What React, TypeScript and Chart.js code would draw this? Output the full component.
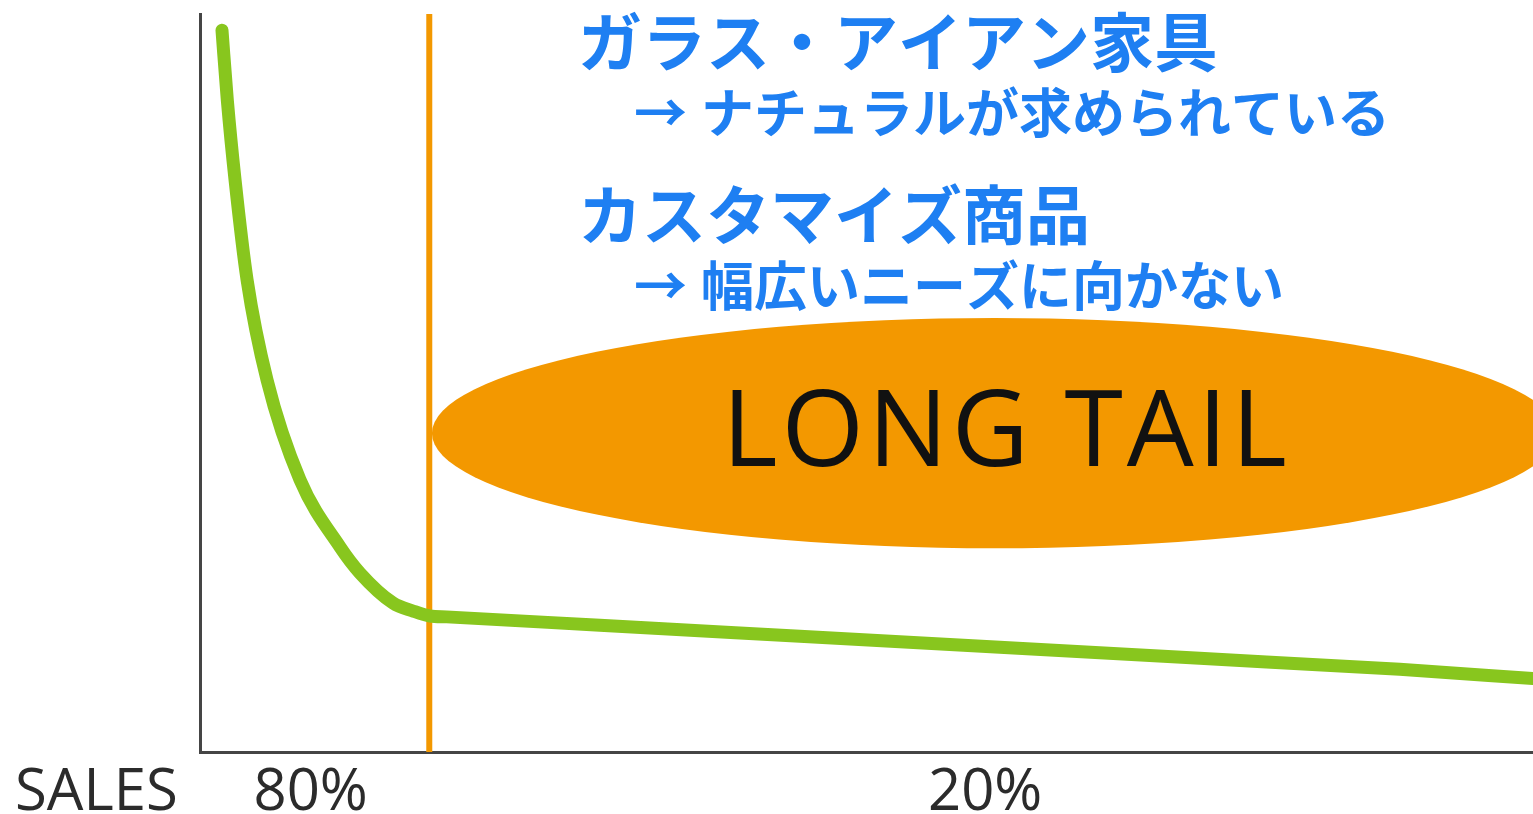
import React, { useEffect, useRef } from "react";
import { Chart, registerables } from "chart.js";

Chart.register(...registerables);

// Product rank (% of catalogue, left→right) and relative sales
const rankX = [1.65, 2.05, 2.63, 3.53, 5.03, 7.5, 10.5, 12.0, 14.48, 15.98, 17.25, 18.5, 30, 45, 60, 75, 90, 100];
const salesY = [97.8, 88.3, 77.5, 64.0, 50.4, 36.9, 27.8, 24.25, 20.19, 19.1, 18.43, 18.31, 17.16, 15.67, 14.18, 12.69, 11.2, 9.95];

// Head / tail boundary on the rank axis
const boundaryX = 17.2;
const segmentLabels = ["80%", "20%"];
const axisLabel = "SALES";
const tailLabel = "LONG TAIL";
// Long tail ellipse (data units): centre x, centre y, radius x, radius y
const tailEllipse = [59.6, 43.2, 42.2, 15.6];

const noteTitles = ["ガラス・アイアン家具", "カスタマイズ商品"];
const noteReasons = ["ナチュラルが求められている", "幅広いニーズに向かない"];

const BLUE = "#1E7FF2";
const ORANGE = "#F39800";
const GREEN = "#88C61E";

const decorPlugin = {
  id: "decor",
  beforeDatasetsDraw(chart: any) {
    const { ctx, scales } = chart;
    const xs = scales.x;
    const ys = scales.y;
    const [cx, cy, rx, ry] = tailEllipse;
    const pcx = xs.getPixelForValue(cx);
    const pcy = ys.getPixelForValue(cy);
    const prx = xs.getPixelForValue(cx + rx) - pcx;
    const pry = pcy - ys.getPixelForValue(cy + ry);
    ctx.save();
    ctx.fillStyle = ORANGE;
    ctx.beginPath();
    ctx.ellipse(pcx, pcy, prx, pry, 0, 0, Math.PI * 2);
    ctx.fill();
    ctx.fillStyle = "#111111";
    ctx.font = '400 106px "Open Sans"';
    (ctx as any).letterSpacing = "4px";
    ctx.textAlign = "center";
    ctx.textBaseline = "alphabetic";
    ctx.fillText(tailLabel, pcx + 12, 466);
    ctx.restore();
  },
  afterDatasetsDraw(chart: any) {
    const { ctx, scales } = chart;
    const xs = scales.x;
    ctx.save();
    // bottom labels
    ctx.fillStyle = "#2b2b2b";
    ctx.font = '400 58px "Open Sans"';
    ctx.textBaseline = "alphabetic";
    ctx.textAlign = "left";
    ctx.fillText(axisLabel, 15, 810);
    ctx.textAlign = "center";
    const m1 = (xs.getPixelForValue(0) + xs.getPixelForValue(boundaryX)) / 2;
    const m2 = (xs.getPixelForValue(boundaryX) + xs.getPixelForValue(100)) / 2;
    ctx.fillText(segmentLabels[0], m1 - 4, 810);
    ctx.fillText(segmentLabels[1], m2 + 4, 810);

    // blue notes
    ctx.fillStyle = BLUE;
    ctx.textAlign = "left";
    ctx.textBaseline = "middle";
    const titleY = [42, 215];
    const reasonY = [113, 286];
    for (let i = 0; i < noteTitles.length; i++) {
      ctx.font = '700 64px "Noto Sans CJK JP"';
      ctx.fillText(noteTitles[i], 578, titleY[i]);
      ctx.font = '700 53px "Noto Sans CJK JP"';
      ctx.fillText("→", 634, reasonY[i]);
      ctx.fillText(noteReasons[i], 701, reasonY[i]);
    }
    ctx.restore();
  },
};

export default function App() {
  const ref = useRef<HTMLCanvasElement>(null);
  useEffect(() => {
    if (!ref.current) return;
    const chart = new Chart(ref.current, {
      type: "line",
      data: {
        datasets: [
          {
            data: rankX.map((x, i) => ({ x, y: salesY[i] })),
            borderColor: GREEN,
            borderWidth: 13,
            borderCapStyle: "round",
            borderJoinStyle: "round",
            cubicInterpolationMode: "monotone",
            pointRadius: 0,
            fill: false,
          },
          {
            data: [
              { x: boundaryX, y: 0 },
              { x: boundaryX, y: 100 },
            ],
            borderColor: ORANGE,
            borderWidth: 6,
            pointRadius: 0,
            fill: false,
          },
        ],
      },
      options: {
        responsive: false,
        animation: false,
        events: [],
        layout: { padding: { left: 192, right: 0, top: 14, bottom: 54 } },
        plugins: { legend: { display: false }, tooltip: { enabled: false } },
        scales: {
          x: {
            type: "linear",
            min: 0,
            max: 100,
            grid: { display: false },
            ticks: { display: false },
            border: { display: true, color: "#454545", width: 3 },
          },
          y: {
            type: "linear",
            min: 0,
            max: 100,
            grid: { display: false },
            ticks: { display: false },
            border: { display: true, color: "#454545", width: 3 },
          },
        },
      },
      plugins: [decorPlugin],
    });
    return () => chart.destroy();
  }, []);
  return (
    <div style={{ position: "fixed", left: 0, top: 0, width: 1533, height: 814, background: "#fff" }}>
      <canvas ref={ref} width={1533} height={814} />
    </div>
  );
}
